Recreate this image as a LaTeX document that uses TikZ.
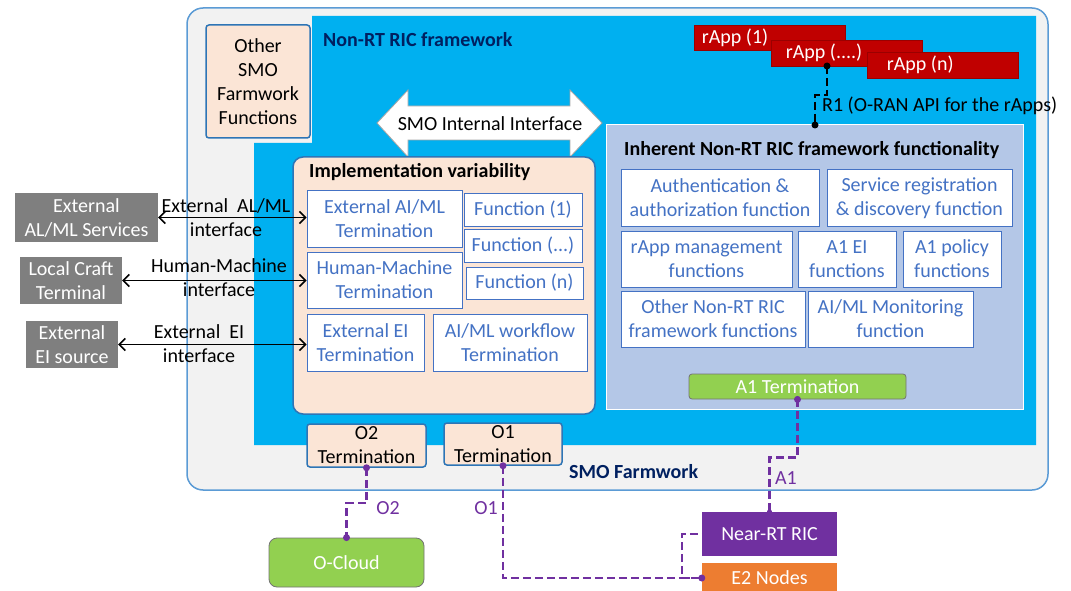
\documentclass[tikz,border=0pt]{standalone}
\usepackage{fontspec}
\setmainfont{Carlito}
\usetikzlibrary{arrows.meta,calc}
\definecolor{smogray}{HTML}{F2F2F2}
\definecolor{smoborder}{HTML}{5B9BD5}
\definecolor{nrtblue}{HTML}{00B0F0}
\definecolor{peach}{HTML}{FBE5D6}
\definecolor{bordblue}{HTML}{2E75B6}
\definecolor{txtblue}{HTML}{4472C4}
\definecolor{inhblue}{HTML}{B4C7E7}
\definecolor{navy}{HTML}{002060}
\definecolor{rappred}{HTML}{C00000}
\definecolor{agreen}{HTML}{92D050}
\definecolor{purp}{HTML}{7030A0}
\definecolor{orng}{HTML}{ED7D31}
\definecolor{extgray}{HTML}{7F7F7F}
\definecolor{arrgray}{HTML}{A5A5A5}
\tikzset{
  fnbox/.style={draw=txtblue, line width=1pt, fill=white, text=txtblue, align=center, inner sep=0pt},
  peachbox/.style={draw=bordblue, line width=1.5pt, fill=peach, align=center, inner sep=0pt, rounded corners=3pt},
  extbox/.style={fill=extgray, text=white, align=center, inner sep=0pt},
  rappbox/.style={fill=rappred, draw=rappred!80!black, line width=0.6pt, inner sep=0pt, minimum width=151pt},
  rapptext/.style={text=white, anchor=west, inner sep=0pt},
  greenbox/.style={fill=agreen, draw=black!55, line width=0.8pt, text=white, inner sep=0pt, rounded corners=3pt},
  titletext/.style={font=\fontsize{20}{24}\selectfont\bfseries, anchor=west, inner sep=0pt},
  ifacelink/.style={{Straight Barb[length=6pt,width=12pt,line width=1.5pt]}-{Straight Barb[length=6pt,width=12pt,line width=1.5pt]}, line width=1.5pt, black},
  ifacelabel/.style={align=center, inner sep=0pt},
  plink/.style={purp, dashed, dash pattern=on 8pt off 4pt, line width=2.5pt},
  blink/.style={black, dashed, dash pattern=on 8pt off 4pt, line width=2.5pt},
  pdot/.style={circle, fill=purp, inner sep=0pt, minimum size=7pt},
  bdot/.style={circle, fill=black, inner sep=0pt, minimum size=7pt},
  plabel/.style={text=purp, inner sep=0pt}
}
\begin{document}
\begin{tikzpicture}[x=1pt, y=-1pt, font=\fontsize{20}{24}\selectfont]
\useasboundingbox (0,0) rectangle (1071,591);
% SMO framework
\node[draw=smoborder, fill=smogray, line width=1.5pt, rounded corners=16pt, minimum width=861pt, minimum height=482pt, inner sep=0pt] (smo) at (617.5,249) {};
% Non-RT RIC framework area
\fill[nrtblue] (312,16) -- (1036,16) -- (1036,445) -- (254,445) -- (254,143) -- (312,143) -- cycle;
\node[titletext, text=navy] (nrttitle) at (323,40) {Non-RT RIC framework};
\node[titletext, text=navy] (smotitle) at (569,472) {SMO Farmwork};
% Other SMO functions
\node[peachbox, minimum width=104pt, minimum height=113pt] (other) at (258,81.5) {Other\\SMO\\Farmwork\\Functions};
% SMO internal interface arrow
\filldraw[fill=white, draw=arrgray, line width=0.8pt] (377,123) -- (408,90) -- (408,106) -- (570,106) -- (570,90) -- (602,123) -- (570,157) -- (570,140) -- (408,140) -- (408,157) -- cycle;
\node[inner sep=0pt] (smoif) at (490,124) {SMO Internal Interface};
% Implementation variability
\node[draw=bordblue, line width=1.5pt, fill=peach, rounded corners=10pt, minimum width=302pt, minimum height=257pt, inner sep=0pt] (impl) at (444,285.5) {};
\node[titletext] (impltitle) at (309,172) {Implementation variability};
\node[fnbox, minimum width=155pt, minimum height=57pt] (extai) at (384.5,218.5) {External AI/ML\\Termination};
\node[fnbox, minimum width=118pt, minimum height=33pt] (f1) at (523,209.5) {Function (1)};
\node[fnbox, minimum width=118pt, minimum height=33pt] (fd) at (523,245.5) {Function (...)};
\node[fnbox, minimum width=117pt, minimum height=32pt] (fn) at (524.5,283) {Function (n)};
\node[fnbox, minimum width=155pt, minimum height=56pt] (hm) at (384.5,280) {Human-Machine\\Termination};
\node[fnbox, minimum width=117pt, minimum height=57pt] (extei) at (365.5,342.5) {External EI\\Termination};
\node[fnbox, minimum width=154pt, minimum height=57pt] (wf) at (510,342.5) {AI/ML workflow\\Termination};
% Inherent functionality
\node[draw=white, line width=1pt, fill=inhblue, minimum width=417pt, minimum height=284pt, inner sep=0pt] (inh) at (814.5,267) {};
\node[titletext] (inhtitle) at (624,150) {Inherent Non-RT RIC framework functionality};
\node[fnbox, minimum width=198pt, minimum height=56pt] (auth) at (720,198) {Authentication \&\\authorization function};
\node[fnbox, minimum width=185pt, minimum height=56pt] (srd) at (919.5,198) {Service registration\\\& discovery function};
\node[fnbox, minimum width=171pt, minimum height=56pt] (rapm) at (706.5,259) {rApp management\\functions};
\node[fnbox, minimum width=98pt, minimum height=56pt] (a1ei) at (847,259) {A1 EI\\functions};
\node[fnbox, minimum width=98pt, minimum height=56pt] (a1p) at (952,259) {A1 policy\\functions};
\node[fnbox, minimum width=184pt, minimum height=56pt] (oth) at (713,319) {Other Non-RT RIC\\framework functions};
\node[fnbox, minimum width=165pt, minimum height=56pt] (mon) at (890.5,319) {AI/ML Monitoring\\function};
\node[greenbox, minimum width=217pt, minimum height=25pt] (a1t) at (797.5,386.5) {A1 Termination};
% rApps
\node[rappbox, minimum height=25pt] (rapp1) at (769.5,37.5) {};
\node[rapptext] (rapp1t) at ([xshift=8pt]rapp1.west) {rApp (1)};
\node[rappbox, minimum height=26pt] (rappm) at (846.5,53) {};
\node[rapptext] (rappmt) at ([xshift=15pt]rappm.west) {rApp (....)};
\node[rappbox, minimum height=26pt] (rappn) at (942.5,65) {};
\node[rapptext] (rappnt) at ([xshift=20pt]rappn.west) {rApp (n)};
% R1
\coordinate (r1a) at (827,66);
\coordinate (r1b) at (815,125);
\draw[blink] (r1a) -- ++(0,29) -| (r1b);
\node[bdot] at (r1a) {};
\node[bdot] at (r1b) {};
\node[anchor=west, inner sep=0pt] (r1lab) at (822,106) {R1 (O-RAN API for the rApps)};
% External entities
\node[extbox, minimum width=143pt, minimum height=49pt] (extsvc) at (86.5,217.5) {External\\AL/ML Services};
\node[extbox, minimum width=102pt, minimum height=47pt] (lct) at (71,280.5) {Local Craft\\Terminal};
\node[extbox, minimum width=92pt, minimum height=47pt] (eis) at (72,344.5) {External\\EI source};
\draw[ifacelink] (extsvc.east) -- (extsvc.east -| extai.west);
\draw[ifacelink] (lct.east) -- (lct.east -| hm.west);
\draw[ifacelink] (eis.east) -- (eis.east -| extei.west);
\node[ifacelabel] (l1) at (226,218) {External\ \ AL/ML\\interface};
\node[ifacelabel] (l2) at (219,278) {Human-Machine\\interface};
\node[ifacelabel] (l3) at (199,344) {External\ \ EI\\interface};
% O1 / O2 terminations
\node[peachbox, minimum width=119pt, minimum height=43pt] (o2t) at (366.5,445.5) {O2\\Termination};
\node[peachbox, minimum width=118pt, minimum height=42pt] (o1t) at (503,444) {O1\\Termination};
% outside entities
\node[greenbox, rounded corners=8pt, minimum width=155pt, minimum height=49pt] (ocl) at (346.5,562.5) {O-Cloud};
\node[fill=purp, text=white, inner sep=0pt, minimum width=135pt, minimum height=44pt] (nrt) at (769.5,534) {Near-RT RIC};
\node[fill=orng, text=white, inner sep=0pt, minimum width=135pt, minimum height=30pt] (e2) at (769.5,578) {E2 Nodes};
% purple links
\draw[plink] (o2t.south) -- ++(0,35) -| (ocl.north);
\node[pdot] at (o2t.south) {};
\node[pdot] at (ocl.north) {};
\node[plabel] (o2lab) at (388,508) {O2};
\draw[plink] (o1t.south) |- (e2.west);
\node[pdot] at (o1t.south) {};
\node[plabel] (o1lab) at (486,508) {O1};
\draw[plink] (e2.west) -- ++(-20,0) |- (nrt.west);
\node[pdot] at (e2.west) {};
\draw[plink] (a1t.south) -- ++(0,58) -| (nrt.north);
\node[pdot] at (a1t.south) {};
\node[pdot, minimum size=5pt] at (nrt.north) {};
\node[plabel] (a1lab) at (786,478) {A1};
\end{tikzpicture}
\end{document}
